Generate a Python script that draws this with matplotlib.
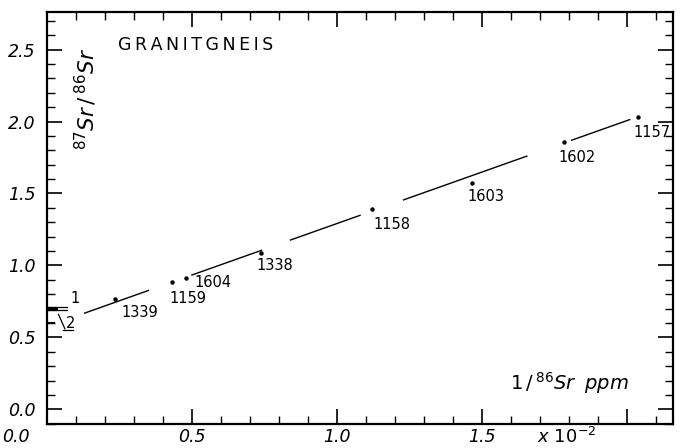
import matplotlib
matplotlib.use("Agg")
import matplotlib.pyplot as plt
import matplotlib.ticker as mticker
import numpy as np

# Sample data (1/86Sr in units of 1e-2 per ppm, 87Sr/86Sr)
samples = ["1339", "1159", "1604", "1338", "1158", "1603", "1602", "1157"]
inv_sr86 = [0.234, 0.431, 0.479, 0.738, 1.121, 1.466, 1.783, 2.038]
sr_ratio = [0.765, 0.887, 0.915, 1.090, 1.390, 1.570, 1.857, 2.034]
# label offsets in pixels (dx, dy) relative to each point
label_dx = [7, -2, 9, -4, 1, -5, -5, -4]
label_dy = [-13, -17, -5, -13, -15, -13, -15, -16]

# isochron fit and the drawn pieces of the line
slope = 0.715
intercept = 0.576
line_pieces = [(0.13, 0.35), (0.50, 0.74), (0.84, 1.08), (1.23, 1.655), (1.81, 2.01)]

# initial ratios marked on the y axis
initial_labels = ["1", "2"]
initial_ratio = [0.70, 0.60]

x_labels = {0.5: "0.5", 1.0: "1.0", 1.5: "1.5"}

fig = plt.figure(figsize=(6.8, 4.48), dpi=100)
ax = fig.add_axes([0.069, 0.054, 0.921, 0.919])

ax.set_xlim(0, 2.16)
ax.set_ylim(-0.1, 2.76)

# regression line, drawn in broken pieces
for x0, x1 in line_pieces:
    xs = np.array([x0, x1])
    ax.plot(xs, intercept + slope * xs, color="black", lw=1.0)

# data points and their labels
ax.plot(inv_sr86, sr_ratio, "o", color="black", markersize=2.2)
for name, x, y, dx, dy in zip(samples, inv_sr86, sr_ratio, label_dx, label_dy):
    ax.annotate(name, (x, y), xytext=(dx, dy), textcoords="offset pixels",
                ha="left", va="center", fontsize=10.5)

# marks for initial ratios
r1, r2 = initial_ratio
ax.plot([0, 0.07], [r1 + 0.012, r1 + 0.012], color="black", lw=0.9)
ax.plot([0, 0.07], [r1 - 0.012, r1 - 0.012], color="black", lw=0.9)
ax.plot([0, 0.03], [r1, r1], color="black", lw=3)
ax.text(0.082, r1 + 0.07, initial_labels[0], fontsize=10.5, ha="left", va="center")
ax.plot([0, 0.025], [r2, r2], color="black", lw=1.5)
ax.plot([0.04, 0.062], [r2 + 0.06, r2 - 0.04], color="black", lw=0.9)
ax.plot([0.055, 0.09], [r2 - 0.05, r2 - 0.05], color="black", lw=0.9)
ax.text(0.064, r2 + 0.0, initial_labels[1], fontsize=10.5, ha="left", va="center")

# texts
ax.text(0.113, 0.909, "\u2009".join("GRANITGNEIS"), transform=ax.transAxes,
        fontsize=12.5, ha="left", va="baseline")
ax.text(0.062, 0.79, r"$\mathit{^{87}Sr\,/\,^{86}Sr}$", transform=ax.transAxes,
        rotation=90, fontsize=15.5, ha="center", va="center")
ax.text(0.835, 0.10, r"$\mathit{1\,/\,^{86}Sr\;\;ppm}$", transform=ax.transAxes,
        fontsize=14, ha="center", va="center")
ax.text(0.83, -0.032, r"$\mathit{x\ 10^{-2}}$", transform=ax.transAxes,
        fontsize=13, ha="center", va="center")
ax.text(-0.05, -0.032, "0.0", transform=ax.transAxes, fontsize=12.5,
        style="italic", ha="center", va="center")

# ticks
ax.xaxis.set_major_locator(mticker.MultipleLocator(0.5))
ax.xaxis.set_minor_locator(mticker.MultipleLocator(0.1))
ax.yaxis.set_major_locator(mticker.MultipleLocator(0.5))
ax.yaxis.set_minor_locator(mticker.MultipleLocator(0.1))
ax.xaxis.set_major_formatter(mticker.FuncFormatter(lambda v, p: x_labels.get(round(v, 1), "")))
ax.yaxis.set_major_formatter(mticker.FormatStrFormatter("%.1f"))
ax.tick_params(which="both", direction="in", top=True, right=True, color="black")
ax.tick_params(which="major", length=11, width=1.2, labelsize=12.5)
ax.tick_params(axis="y", which="major", pad=8)
ax.tick_params(axis="x", which="major", pad=3)
ax.tick_params(which="minor", length=5.5, width=1.0)
for lab in ax.get_xticklabels() + ax.get_yticklabels():
    lab.set_fontstyle("italic")
for sp in ax.spines.values():
    sp.set_linewidth(1.6)

fig.savefig("out.png", dpi=100)
